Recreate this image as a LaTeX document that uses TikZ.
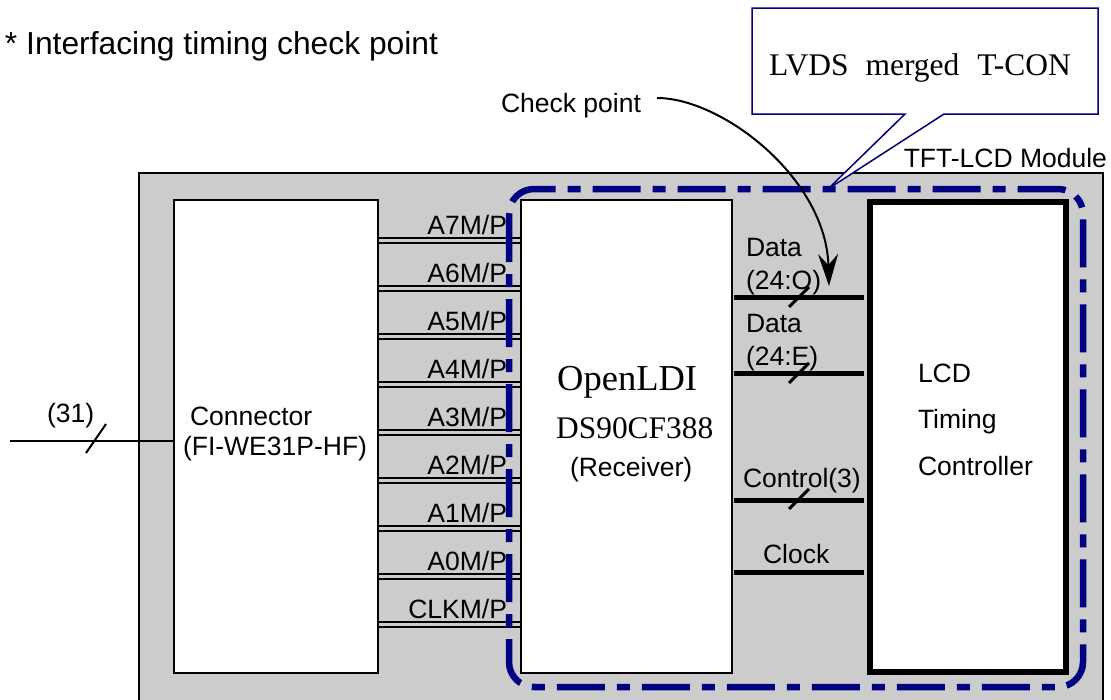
\documentclass[tikz,border=0pt]{standalone}
\usepackage{fontspec}
\setmainfont{Liberation Sans}
\newfontfamily\serifface{Liberation Serif}
\usetikzlibrary{arrows.meta}
\definecolor{modgrey}{RGB}{204,204,204}
\definecolor{navyline}{RGB}{0,0,128}

\begin{document}
\begin{tikzpicture}[x=1pt,y=-1pt,
  lbl/.style={inner sep=0pt, outer sep=0pt, font=\fontsize{26.5}{30}\selectfont},
  titletext/.style={inner sep=0pt, outer sep=0pt, font=\fontsize{31.8}{36}\selectfont},
  block/.style={draw, fill=white, line width=2pt, inner sep=0pt, outer sep=0pt, anchor=north west},
  pairline/.style={line width=2pt},
  busline/.style={line width=5pt},
  slashmark/.style={line width=3pt},
  tconframe/.style={draw=navyline, line width=6.5pt, rounded corners=25pt,
    dash pattern=on 48pt off 12pt on 13pt off 12pt},
]
\useasboundingbox (0,0) rectangle (1111,699);

% title
\node[titletext, anchor=base west] (title) at (5,54) {* Interfacing timing check point};

% module housing (runs past the lower edge)
\draw[fill=modgrey, line width=2pt] (139,173) rectangle (1103,720);
\node[lbl, anchor=base east] (module) at (1107,167) {TFT-LCD Module};

% blocks
\node[block, minimum width=204pt, minimum height=473pt] (conn) at (174,200) {};
\node[block, minimum width=211pt, minimum height=473pt] (recv) at (521,200) {};
\node[block, line width=6pt, minimum width=196pt, minimum height=470pt] (lcd) at (870,202) {};

% connector text
\node[lbl, anchor=base west] (conntxt) at (190,425) {Connector};
\node[lbl, anchor=base west] (conntype) at (183,455) {(FI-WE31P-HF)};

% receiver text
\node[inner sep=0pt, anchor=base west, font=\serifface\fontsize{36.5}{40}\selectfont] (ldi) at (557,390) {OpenLDI};
\node[inner sep=0pt, anchor=base west, font=\serifface\fontsize{31.4}{36}\selectfont] (chip) at (556,438) {DS90CF388};
\node[lbl, anchor=base west] (rx) at (570,476) {(Receiver)};

% timing controller text
\node[lbl, anchor=base west] (lcd1) at (918,382) {LCD};
\node[lbl, anchor=base west] (lcd2) at (918,428) {Timing};
\node[lbl, anchor=base west] (lcd3) at (918,475) {Controller};

% input cable
\coordinate (inp) at (10,441);
\draw[pairline] (inp) -- (conn.west |- inp);
\draw[pairline] (86,453) -- (106,424);
\node[lbl, anchor=base west] (cnt) at (47,422) {(31)};

% LVDS pairs between connector and receiver
\foreach \name [count=\k from 0] in {A7M/P,A6M/P,A5M/P,A4M/P,A3M/P,A2M/P,A1M/P,A0M/P,CLKM/P} {
  \pgfmathsetmacro{\yy}{240+48.06*\k}
  \coordinate (pu\k) at (0,\yy-2.5);
  \coordinate (pd\k) at (0,\yy+2.5);
  \draw[pairline] (conn.east |- pu\k) -- (recv.west |- pu\k);
  \draw[pairline] (conn.east |- pd\k) -- (recv.west |- pd\k);
  \node[lbl, anchor=base east] (pl\k) at (507,\yy-6) {\name};
}

% receiver outputs
\foreach \yy/\nm in {297/bo,373/be,500/bc,572/bk} {
  \coordinate (\nm) at (0,\yy);
  \draw[busline] ([xshift=2pt]recv.east |- \nm) -- ([xshift=-6pt]lcd.west |- \nm);
}
\foreach \yy in {297,373,499} {
  \draw[slashmark] (789,\yy+10) -- (809,\yy-10);
}
\node[lbl, anchor=base west] (d1) at (746,256) {Data};
\node[lbl, anchor=base west] (d1b) at (746,289) {(24:O)};
\node[lbl, anchor=base west] (d2) at (746,332) {Data};
\node[lbl, anchor=base west] (d2b) at (746,365) {(24:E)};
\node[lbl, anchor=base west] (ctl) at (743,487) {Control(3)};
\node[lbl, anchor=base west] (clk) at (763,563) {Clock};

% T-CON boundary
\draw[tconframe] (509,189) rectangle (1083,687);

% callout
\draw[navyline, fill=white, line width=1.5pt]
  (752,8) -- (1098,8) -- (1098,114) -- (944,114) -- (828,189) -- (905,114) -- (752,114) -- cycle;
\node[inner sep=0pt, anchor=base west, font=\serifface\fontsize{31.5}{36}\selectfont] (tcon) at (769,75)
  {LVDS\hspace{17pt}merged\hspace{18pt}T-CON};

% check point marker
\node[lbl, anchor=base west] (cp) at (501,112) {Check point};
\coordinate (cps) at (657,98);
\coordinate (cpe) at (829,286);
\draw[line width=2pt, -{Stealth[length=32pt, width=20pt, inset=11pt]}]
  (cps) .. controls (722,98) and (826,178) .. (cpe);
\end{tikzpicture}
\end{document}
